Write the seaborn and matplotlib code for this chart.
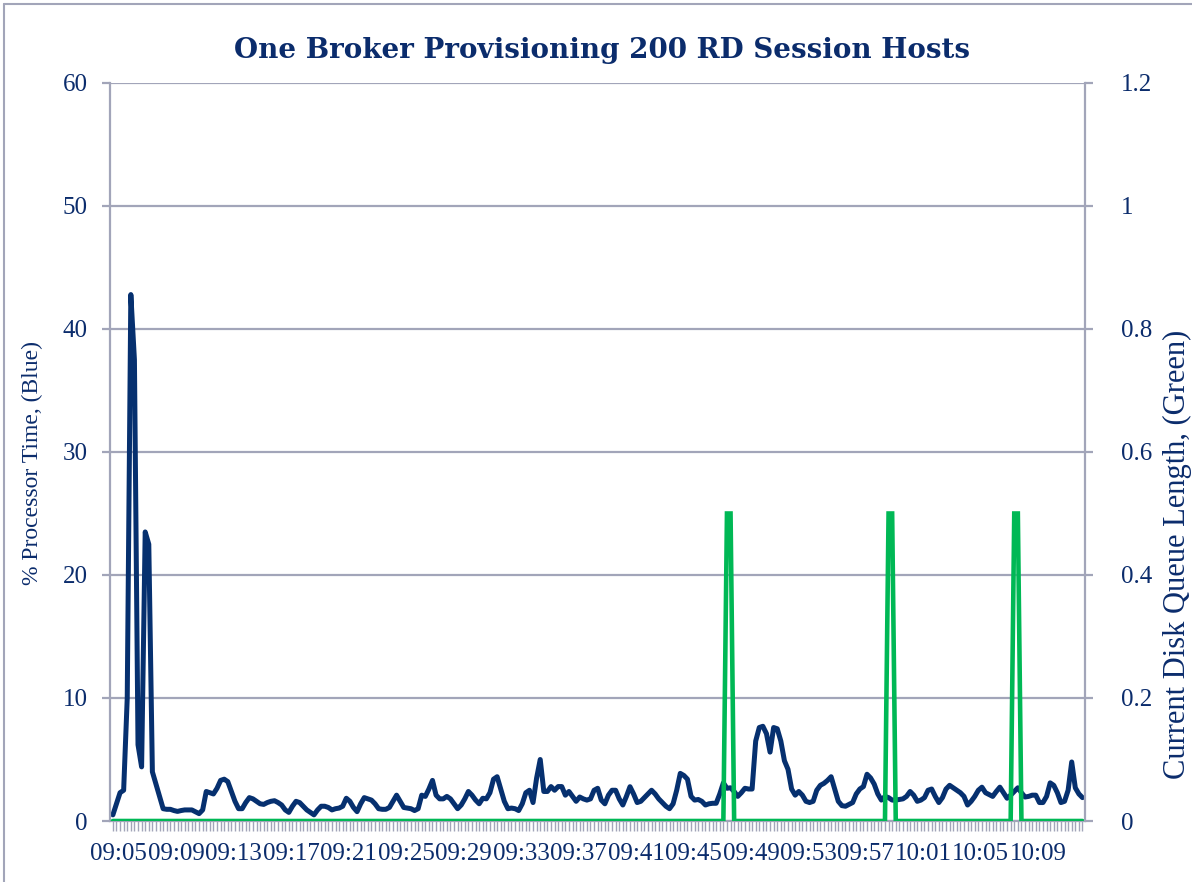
import numpy as np
import pandas as pd
import matplotlib
matplotlib.use("Agg")
import matplotlib.pyplot as plt
import seaborn as sns
from matplotlib.lines import Line2D
from matplotlib.transforms import ScaledTranslation

# ---------------- data ----------------
time_labels = ["09:05", "09:09", "09:13", "09:17", "09:21", "09:25", "09:29", "09:33",
               "09:37", "09:41", "09:45", "09:49", "09:53", "09:57", "10:01", "10:05", "10:09"]

processor_time = [
    0.5, 1.4, 2.3, 2.5, 10.0, 42.8, 37.5, 6.2, 4.4, 23.5,
    22.5, 4.0, 3.0, 2.0, 1.0, 0.95, 0.95, 0.85, 0.78, 0.85,
    0.9, 0.9, 0.9, 0.75, 0.6, 0.9, 2.4, 2.3, 2.2, 2.66,
    3.3, 3.4, 3.2, 2.4, 1.6, 1.0, 1.0, 1.5, 1.9, 1.8,
    1.6, 1.4, 1.35, 1.5, 1.6, 1.65, 1.5, 1.3, 0.9, 0.7,
    1.2, 1.6, 1.5, 1.2, 0.9, 0.7, 0.5, 0.9, 1.2, 1.2,
    1.1, 0.9, 1.0, 1.05, 1.2, 1.85, 1.6, 1.1, 0.76, 1.4,
    1.9, 1.8, 1.7, 1.4, 1.0, 0.95, 0.95, 1.1, 1.6, 2.1,
    1.6, 1.1, 1.05, 1.0, 0.85, 1.0, 2.1, 2.0, 2.6, 3.3,
    2.1, 1.8, 1.8, 2.0, 1.8, 1.4, 1.0, 1.3, 1.8, 2.4,
    2.1, 1.7, 1.4, 1.85, 1.8, 2.3, 3.4, 3.6, 2.6, 1.6,
    1.0, 1.05, 1.0, 0.85, 1.4, 2.3, 2.5, 1.5, 3.5, 5.0,
    2.4, 2.4, 2.8, 2.5, 2.8, 2.8, 2.1, 2.4, 2.0, 1.6,
    1.95, 1.8, 1.7, 1.8, 2.5, 2.66, 1.7, 1.4, 2.1, 2.5,
    2.5, 1.8, 1.3, 2.0, 2.79, 2.2, 1.5, 1.6, 1.9, 2.2,
    2.5, 2.2, 1.8, 1.5, 1.2, 1.0, 1.4, 2.5, 3.87, 3.7,
    3.4, 2.0, 1.7, 1.75, 1.6, 1.3, 1.4, 1.44, 1.44, 2.2,
    3.1, 2.66, 2.7, 2.4, 2.0, 2.3, 2.66, 2.6, 2.6, 6.5,
    7.6, 7.7, 7.1, 5.6, 7.6, 7.5, 6.5, 4.9, 4.2, 2.6,
    2.1, 2.4, 2.1, 1.6, 1.5, 1.6, 2.5, 2.9, 3.06, 3.3,
    3.6, 2.6, 1.6, 1.25, 1.2, 1.35, 1.5, 2.2, 2.6, 2.8,
    3.8, 3.5, 3.0, 2.2, 1.7, 2.0, 1.9, 1.7, 1.7, 1.75,
    1.8, 2.0, 2.4, 2.1, 1.6, 1.7, 1.9, 2.5, 2.6, 2.0,
    1.5, 1.9, 2.6, 2.9, 2.7, 2.5, 2.3, 2.0, 1.3, 1.6,
    2.0, 2.5, 2.75, 2.3, 2.15, 2.0, 2.4, 2.75, 2.3, 1.85,
    2.1, 2.4, 2.7, 2.3, 1.95, 2.0, 2.1, 2.1, 1.5, 1.5,
    2.0, 3.1, 2.9, 2.3, 1.5, 1.6, 2.5, 4.8, 2.7, 2.2,
    1.9,
]

disk_queue = [0.0] * 171 + [0.5, 0.5] + [0.0] * 43 + [0.5, 0.5] + [0.0] * 33 + [0.5, 0.5] + [0.0] * 18

label_every = 16

# ---------------- style ----------------
NAVY = "#0B2C6C"
LINE_BLUE = "#06306F"
GREEN = "#00B855"
GRID = "#A2A5B9"

sns.set_theme(style="white")
plt.rcParams['font.family'] = ['Liberation Serif', 'DejaVu Serif']

fig = plt.figure(figsize=(11.92, 8.82), dpi=100)
ax = fig.add_axes([110 / 1192, 1 - 821 / 882, 975 / 1192, 738 / 882])
ax2 = ax.twinx()

n = len(processor_time)
df = pd.DataFrame({"idx": np.arange(n), "cpu": processor_time, "disk": disk_queue})

sns.lineplot(data=df, x="idx", y="cpu", ax=ax, color=LINE_BLUE, linewidth=3.6,
             solid_joinstyle="round", solid_capstyle="round")
sns.lineplot(data=df, x="idx", y="disk", ax=ax2, color=GREEN, linewidth=3.3,
             solid_joinstyle="miter")

# axes limits
ax.set_xlim(-0.8, n - 1 + 0.7)
ax.set_ylim(0, 60)
ax2.set_ylim(0, 1.2)

# gridlines
ax.set_yticks(np.arange(0, 61, 10))
ax.yaxis.grid(True, color=GRID, linewidth=1.6)
ax.xaxis.grid(False)
ax.set_axisbelow(True)
ax2.set_yticks(np.round(np.arange(0, 1.21, 0.2), 1))
ax2.set_yticklabels(["0", "0.2", "0.4", "0.6", "0.8", "1", "1.2"])
ax2.grid(False)

# x ticks
major = np.arange(0, n, label_every)
ax.set_xticks(major)
ax.set_xticklabels(time_labels[:len(major)])
ax.set_xticks(np.arange(0, n), minor=True)
ax.tick_params(axis="x", which="both", length=7, width=1.0, color=GRID,
               direction="out", bottom=True)
ax.tick_params(axis="x", which="major", labelsize=18, labelcolor=NAVY, pad=9)
shift = ScaledTranslation(6 / 100, 0, fig.dpi_scale_trans)
for lbl in ax.get_xticklabels():
    lbl.set_transform(lbl.get_transform() + shift)

ax.tick_params(axis="y", which="major", length=6, width=1.6, color=GRID,
               direction="out", left=True, labelsize=18, labelcolor=NAVY, pad=10)
ax2.tick_params(axis="y", which="major", length=6, width=1.6, color=GRID,
                direction="out", right=True, labelsize=18, labelcolor=NAVY, pad=20)

for a in (ax, ax2):
    a.spines["top"].set_visible(False)
    for s in ("left", "right", "bottom"):
        a.spines[s].set_color(GRID)
        a.spines[s].set_linewidth(1.6)
ax.spines["right"].set_visible(False)
ax2.spines["left"].set_visible(False)
ax2.spines["bottom"].set_visible(False)

ax.set_xlabel("")
ax.set_ylabel("")
ax2.set_ylabel("")

fig.text(32 / 1192, 1 - 463 / 882, "% Processor Time, (Blue)", rotation=90,
         ha="center", va="center", fontsize=17, color=NAVY)
fig.text(1177 / 1192, 1 - 554 / 882, "Current Disk Queue Length, (Green)", rotation=90,
         ha="center", va="center", fontsize=22, color=NAVY)

fig.text(0.505, 1 - 51 / 882, "One Broker Provisioning 200 RD Session Hosts",
         ha="center", va="center", fontsize=20, fontweight="bold", color=NAVY,
         family=["DejaVu Serif"])

# outer chart border (top and left visible in reference)
fig.add_artist(Line2D([4 / 1192, 4 / 1192], [0, 1 - 4 / 882], transform=fig.transFigure,
                      color=GRID, linewidth=1.5))
fig.add_artist(Line2D([4 / 1192, 1], [1 - 4 / 882, 1 - 4 / 882], transform=fig.transFigure,
                      color=GRID, linewidth=1.5))

fig.savefig("out.png", dpi=100)
